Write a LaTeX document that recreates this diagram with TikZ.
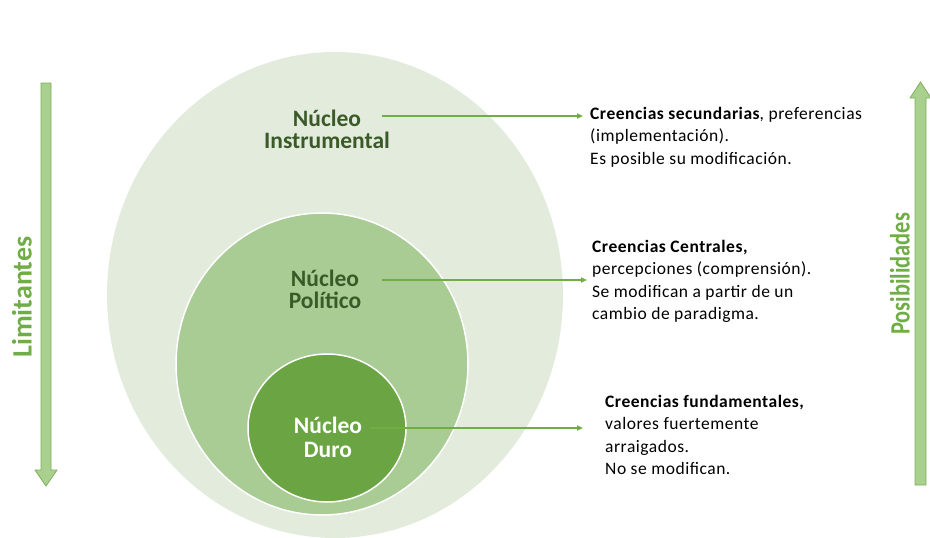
\documentclass[tikz,border=0pt]{standalone}
\usepackage{fontspec}
\usepackage{graphicx}
\setmainfont{Carlito}
\newfontfamily\cuerpo[LetterSpace=3]{Carlito}
\usetikzlibrary{positioning,shapes.geometric,arrows.meta}
\definecolor{verde}{HTML}{70AD47}
\definecolor{verdeosc}{HTML}{3A5A27}
\definecolor{anillouno}{HTML}{E2EBDC}
\definecolor{anillodos}{HTML}{A9CC95}
\definecolor{anillotres}{HTML}{6BA443}
\definecolor{verdeclaro}{HTML}{A9D08E}
\definecolor{verdeborde}{HTML}{7CB05A}
\begin{document}
\begin{tikzpicture}[x=1pt, y=-1pt,
    nucleo/.style = {draw=white, line width=1.5pt, ellipse, inner sep=0pt},
    etiq/.style = {font=\fontsize{23.5}{22}\selectfont\bfseries, align=center, text=verdeosc},
    texto/.style = {font=\cuerpo\fontsize{17.5}{22.5}\selectfont, align=left, anchor=north west, inner sep=0pt},
    lado/.style = {font=\fontsize{28}{30}\selectfont\bfseries, text=verde, rotate=90},
    conn/.style = {draw=verde, line width=1.6pt, -{Triangle[length=6pt,width=5pt]}},
    flecha/.style = {fill=verdeclaro, draw=verdeborde, line width=0.8pt}]
  \useasboundingbox (0,0) rectangle (930,538);
  % anillos
  \node[nucleo, fill=anillouno, draw=none, minimum width=456pt, minimum height=486pt] (instr) at (335,295) {};
  \node[nucleo, fill=anillodos, minimum width=292pt, minimum height=302pt] (polit) at (322,364) {};
  \node[nucleo, fill=anillotres, minimum width=158pt, minimum height=148pt] (duro) at (327,428) {};
  % etiquetas
  \node[etiq] (lblinstr) at (327,129) {Núcleo\\Instrumental};
  \node[etiq] (lblpolit) at (325,289) {Núcleo\\Político};
  \node[etiq, text=white] (lblduro) at (328,437) {Núcleo\\[2pt]Duro};
  % textos
  \node[texto] (txtinstr) at (590,107) {\textbf{Creencias secundarias}, preferencias\\(implementación).\\Es posible su modificación.};
  \node[texto] (txtpolit) at (592,240) {\textbf{Creencias Centrales,}\\percepciones (comprensión).\\Se modifican a partir de un\\cambio de paradigma.};
  \node[texto] (txtduro) at (605,395) {\textbf{Creencias fundamentales,}\\valores fuertemente\\arraigados.\\No se modifican.};
  % conectores
  \coordinate (desdeinstr) at (382,116);
  \coordinate (hastainstr) at (583,116);
  \coordinate (desdepolit) at (382,280);
  \coordinate (hastapolit) at (587,280);
  \coordinate (desdeduro) at (370,428);
  \coordinate (hastaduro) at (583,428);
  \draw[conn] (desdeinstr) -- (hastainstr);
  \draw[conn] (desdepolit) -- (hastapolit);
  \draw[conn] (desdeduro) -- (hastaduro);
  % flechas laterales
  \draw[flecha] (41,83) -- (51,83) -- (51,470) -- (57,470) -- (46,486) -- (35,470) -- (41,470) -- cycle;
  \draw[flecha] (915,485) -- (926,485) -- (926,98) -- (931,98) -- (920.5,82) -- (910,98) -- (915,98) -- cycle;
  \node[lado] (limit) at (22,297) {Limitantes};
  \node[lado] (posib) at (900,274) {\scalebox{0.8}[1]{Posibilidades}};
\end{tikzpicture}
\end{document}
